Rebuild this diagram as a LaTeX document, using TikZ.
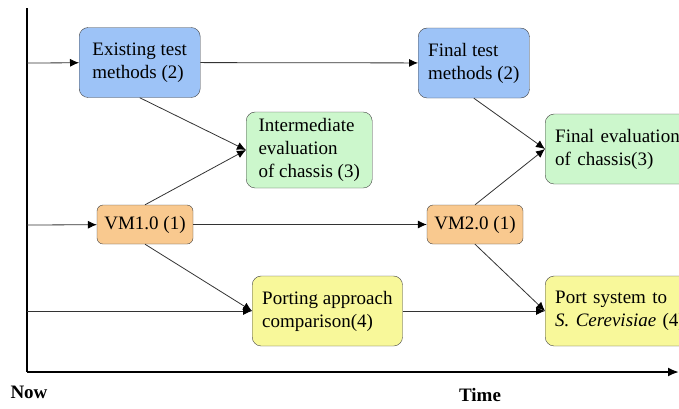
\documentclass[tikz,border=0pt]{standalone}
\usepackage{fontspec}
\setmainfont{Liberation Serif}
\usetikzlibrary{arrows.meta}
\definecolor{testblue}{RGB}{157,195,247}
\definecolor{evalgreen}{RGB}{204,247,204}
\definecolor{vmorange}{RGB}{249,201,143}
\definecolor{portyellow}{RGB}{248,248,154}
\tikzset{
  stage/.style={draw=black!75, rounded corners=9pt, align=left, inner xsep=10pt,
    font=\fontsize{19}{23}\selectfont, minimum height=70pt, anchor=west},
  vmbox/.style={draw=black!75, fill=vmorange, rounded corners=6pt,
    font=\fontsize{19}{23}\selectfont, minimum width=96pt, minimum height=39pt, inner sep=0pt},
  flow/.style={draw=black!80, line width=0.8pt, -{Latex[length=9pt,width=8pt,color=black]}},
  axis/.style={line width=2pt}
}
\begin{document}
\begin{tikzpicture}[x=1pt,y=-1pt]
            \clip (0,0) rectangle (679,408);
            \useasboundingbox (0,0) rectangle (679,408);

            % Axes
            \coordinate (top) at (27,8);
            \coordinate (origin) at (27,372);
            \coordinate (tend) at (679,372);
            \draw[axis] (top) -- (origin);
            \draw[axis, -{Latex[length=11pt,width=9pt]}] (origin) -- (tend);
            \node[font=\fontsize{19}{23}\selectfont\bfseries] (now) at (29,392) {Now};
            \node[font=\fontsize{19}{23}\selectfont\bfseries] (time) at (480,395) {Time};

            % Row starts on the axis
            \coordinate (r1) at (27,63);
            \coordinate (r2) at (27,225);
            \coordinate (r3) at (27,311);

            % First stage nodes
            \node[stage, fill=testblue, minimum width=121pt] (exist) at (79,62.5) {Existing test\\methods (2)};
            \node[vmbox] (vmone) at (145,224.5) {VM1.0 (1)};
            \draw[flow] (r1) -- (exist);
            \draw[flow] (r2) -- (vmone);

            % Second stage nodes
            \node[stage, fill=evalgreen, minimum width=126pt, minimum height=76pt] (inter) at (246,150) {Intermediate\\evaluation\\of chassis (3)};
            \node[stage, fill=portyellow, minimum width=149pt] (porting) at (252,311) {Porting approach\\comparison(4)};
            \draw[flow] (exist.south) -- (inter.west);
            \draw[flow] (vmone.north) -- (inter.west);
            \draw[flow] (vmone.south) -- (porting.west);
            \draw[flow] (r3) -- (porting);

            % Third stage nodes
            \node[stage, fill=testblue, minimum width=109pt] (final) at (418,63) {Final test\\methods (2)};
            \node[vmbox] (vmtwo) at (475,224.5) {VM2.0 (1)};
            \draw[flow] (exist) -- (final);
            \draw[flow] (vmone) -- (vmtwo);

            % Fourth stage nodes
            \node[stage, fill=evalgreen, text width=140pt] (feval) at (545,149) {Final evaluation\\of chassis(3)};
            \node[stage, fill=portyellow, text width=140pt] (port) at (545,311) {Port system to\\\textit{S. Cerevisiae} (4)};
            \draw[flow] (final.south) -- (feval.west);
            \draw[flow] (vmtwo.north) -- (feval.west);
            \draw[flow] (vmtwo.south) -- (port.west);
            \draw[flow] (porting) -- (port);
        \end{tikzpicture}
\end{document}
